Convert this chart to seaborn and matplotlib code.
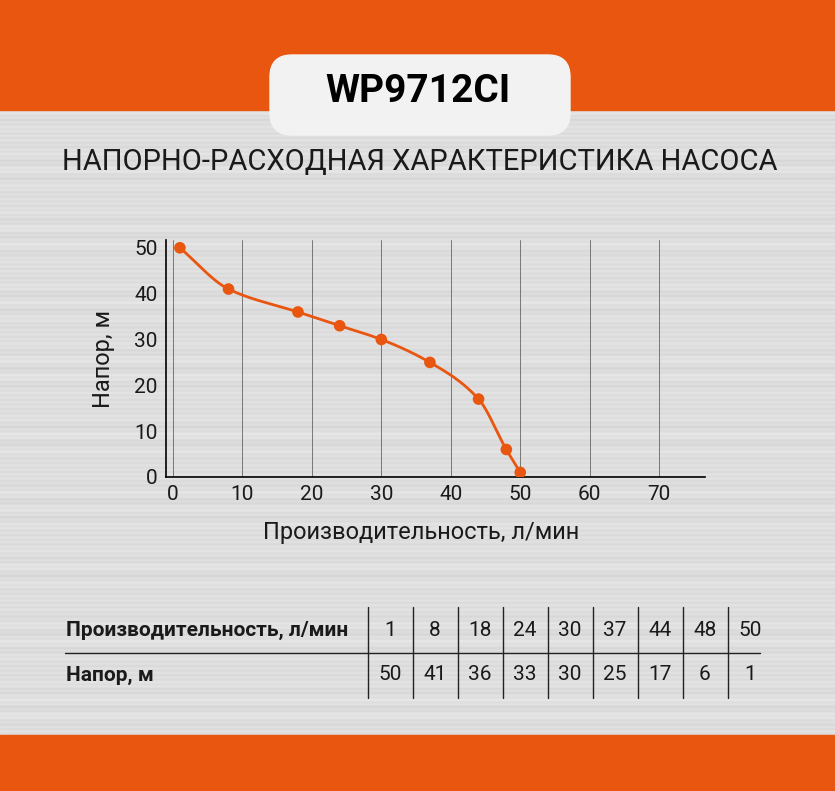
import numpy as np
import matplotlib
matplotlib.use("Agg")
import matplotlib.pyplot as plt
import seaborn as sns
from matplotlib.patches import FancyBboxPatch, Rectangle

flow = [1, 8, 18, 24, 30, 37, 44, 48, 50]
head = [50, 41, 36, 33, 30, 25, 17, 6, 1]
xticks = [0, 10, 20, 30, 40, 50, 60, 70]
yticks = [0, 10, 20, 30, 40, 50]
title = "WP9712CI"
subtitle = "НАПОРНО-РАСХОДНАЯ ХАРАКТЕРИСТИКА НАСОСА"
xlabel = "Производительность, л/мин"
ylabel = "Напор, м"

ORANGE = "#E8560F"
W, H = 835, 791
sns.set_theme(style="white")
plt.rcParams['font.family'] = ['Roboto', 'DejaVu Sans']
fig = plt.figure(figsize=(W/100, H/100), dpi=100)

bg = fig.add_axes([0, 0, 1, 1]); bg.set_axis_off()
rows = np.linspace(0, 1, 791)
tex = 0.87 + 0.02*np.sin(rows*300) * np.sin(rows*37) + 0.015*np.cos(rows*1100)
img = np.tile(tex[:, None], (1, 50))
bg.imshow(img, cmap="gray", vmin=0, vmax=1, aspect="auto", extent=[0, W, H, 0])
bg.set_xlim(0, W); bg.set_ylim(H, 0)
bg.add_patch(Rectangle((0, 0), W, 110, color=ORANGE))
bg.add_patch(Rectangle((0, 735), W, 56, color=ORANGE))
bg.add_patch(FancyBboxPatch((270, 55), 300, 80, boxstyle="round,pad=0,rounding_size=22", color="#f2f2f2"))
bg.text(418, 92, title, ha="center", va="center", fontsize=28, fontweight="bold", color="black")
bg.text(420, 162, subtitle, ha="center", va="center", fontsize=21, color="#1a1a1a")
bg.text(421, 533, xlabel, ha="center", va="center", fontsize=17, color="#1a1a1a")

# table
bg.plot([65, 760], [653, 653], color="#222", lw=1)
for i in range(9):
    xv = 368 + 45*i
    bg.plot([xv, xv], [607, 698], color="#222", lw=1)
for i in range(9):
    cx = 390 + 45*i
    bg.text(cx, 630, str(flow[i]), ha="center", va="center", fontsize=15, color="#1a1a1a")
    bg.text(cx, 675, str(head[i]), ha="center", va="center", fontsize=15, color="#1a1a1a")
bg.text(66, 630, xlabel, ha="left", va="center", fontsize=15, fontweight="bold", color="#1a1a1a")
bg.text(66, 675, ylabel, ha="left", va="center", fontsize=15, fontweight="bold", color="#1a1a1a")

ax = fig.add_axes([166/W, 1-477/H, (705-166)/W, (477-240)/H])
ax.patch.set_alpha(0)
ax.set_xlim(-1, 76.6); ax.set_ylim(0, 51.7)

# monotone cubic (Fritsch-Carlson) for smooth curve
x = np.array(flow, float); y = np.array(head, float)
h = np.diff(x); d = np.diff(y)/h
m = np.zeros_like(x); m[0] = d[0]; m[-1] = d[-1]
for k in range(1, len(x)-1):
    if d[k-1]*d[k] > 0:
        w1 = 2*h[k]+h[k-1]; w2 = h[k]+2*h[k-1]
        m[k] = (w1+w2)/(w1/d[k-1]+w2/d[k])
xs, ys = [], []
for k in range(len(x)-1):
    t = np.linspace(0, 1, 40)
    h00 = 2*t**3-3*t**2+1; h10 = t**3-2*t**2+t; h01 = -2*t**3+3*t**2; h11 = t**3-t**2
    xs.append(x[k]+t*h[k]); ys.append(h00*y[k]+h10*h[k]*m[k]+h01*y[k+1]+h11*h[k]*m[k+1])
xs = np.concatenate(xs); ys = np.concatenate(ys)
sns.lineplot(x=xs, y=ys, ax=ax, color=ORANGE, lw=2, sort=False)
sns.scatterplot(x=flow, y=head, ax=ax, color=ORANGE, s=70, edgecolor="none", zorder=5)

ax.set_xticks(xticks); ax.set_yticks(yticks)
ax.xaxis.grid(True, color="#666", lw=0.6); ax.yaxis.grid(False)
for s in ["top", "right"]:
    ax.spines[s].set_visible(False)
for s in ["left", "bottom"]:
    ax.spines[s].set_color("black"); ax.spines[s].set_linewidth(1.2)
ax.tick_params(labelsize=15, colors="#1a1a1a", length=0, pad=6)
ax.set_ylabel(ylabel, fontsize=17, color="#1a1a1a", labelpad=14)
fig.savefig("out.png", dpi=100)
